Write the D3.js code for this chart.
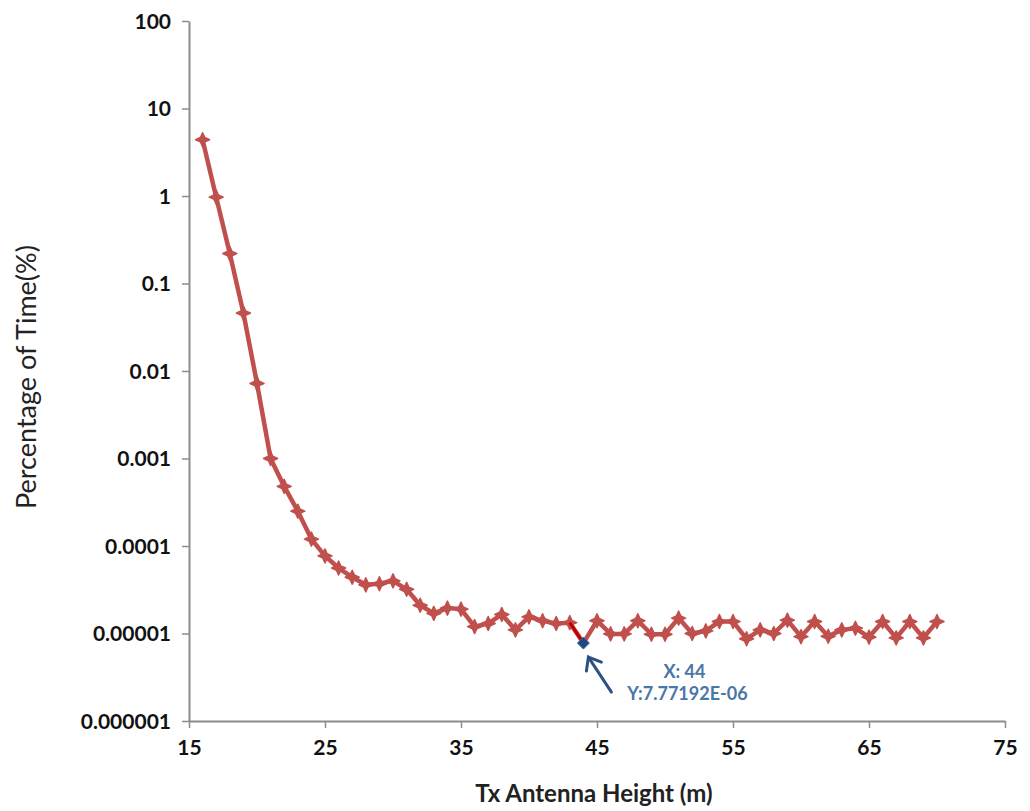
<!DOCTYPE html>
<html>
<head>
<meta charset="utf-8">
<script src="https://cdn.jsdelivr.net/npm/d3@7"></script>
<style>
  body { margin: 0; background: #fff; }
  svg { display: block; }
</style>
</head>
<body>
<script>
// Tx antenna height (m) and percentage of time (%)
const heights = d3.range(16, 71);
const percent = [
  4.4, 0.97, 0.22, 0.046, 0.0072, 0.001, 4.8e-4, 2.5e-4, 1.2e-4, 7.7e-5,
  5.6e-5, 4.4e-5, 3.6e-5, 3.7e-5, 4.0e-5, 3.2e-5, 2.1e-5, 1.7e-5, 1.95e-5, 1.9e-5,
  1.2e-5, 1.3e-5, 1.65e-5, 1.1e-5, 1.55e-5, 1.4e-5, 1.3e-5, 1.33e-5, 7.77192e-6, 1.4e-5,
  9.9e-6, 9.9e-6, 1.4e-5, 9.8e-6, 9.8e-6, 1.5e-5, 1.0e-5, 1.07e-5, 1.37e-5, 1.37e-5,
  8.7e-6, 1.1e-5, 1.0e-5, 1.42e-5, 9.2e-6, 1.37e-5, 9.3e-6, 1.1e-5, 1.15e-5, 9.1e-6,
  1.37e-5, 8.9e-6, 1.37e-5, 8.9e-6, 1.37e-5
];
const xTicks = [15, 25, 35, 45, 55, 65, 75];
const yTicks = [1e-6, 1e-5, 1e-4, 1e-3, 1e-2, 0.1, 1, 10, 100];
const yTickLabels = ["0.000001", "0.00001", "0.0001", "0.001", "0.01", "0.1", "1", "10", "100"];
const markedX = 44;

const width = 1030, height = 811;
const margin = { left: 189, right: 25, top: 21, bottom: 90 };
const font = "Lato, 'Open Sans', sans-serif";

const data = heights.map((h, i) => ({ x: h, y: percent[i] }));

const svg = d3.select("body").append("svg")
  .attr("width", width)
  .attr("height", height);

const x = d3.scaleLinear().domain([15, 75]).range([margin.left, width - margin.right]);
const y = d3.scaleLog().domain([1e-6, 100]).range([height - margin.bottom, margin.top]);

// axes
const xAxis = svg.append("g")
  .attr("transform", `translate(0,${y(1e-6)})`)
  .call(d3.axisBottom(x).tickValues(xTicks).tickSize(7).tickSizeOuter(0).tickPadding(9));
const yAxis = svg.append("g")
  .attr("transform", `translate(${x(15)},0)`)
  .call(d3.axisLeft(y).tickValues(yTicks).tickFormat((d, i) => yTickLabels[i])
    .tickSize(7).tickSizeOuter(0).tickPadding(11));

[xAxis, yAxis].forEach(g => {
  g.select(".domain").attr("stroke", "#8c8c8c").attr("stroke-width", 2);
  g.selectAll(".tick line").attr("stroke", "#8c8c8c").attr("stroke-width", 1.5);
  g.selectAll(".tick text")
    .attr("fill", "#111")
    .style("font-family", font)
    .style("font-weight", "bold")
    .style("font-size", "21px");
});
xAxis.selectAll(".tick text").attr("dy", "0.85em");
yAxis.selectAll(".tick text").attr("dy", "0.35em");

// axis titles
svg.append("text")
  .attr("x", (x(15) + x(75)) / 2 - 3)
  .attr("y", 802)
  .attr("text-anchor", "middle")
  .style("font-family", font)
  .style("font-weight", "bold")
  .style("font-size", "24px")
  .attr("fill", "#222")
  .text("Tx Antenna Height (m)");

svg.append("text")
  .attr("transform", `translate(36,${(y(1e-6) + y(100)) / 2 + 6}) rotate(-90)`)
  .attr("text-anchor", "middle")
  .style("font-family", font)
  .style("font-size", "27px")
  .attr("fill", "#222")
  .text("Percentage of Time(%)");

// series line
const line = d3.line().x(d => x(d.x)).y(d => y(d.y));
svg.append("path")
  .datum(data)
  .attr("fill", "none")
  .attr("stroke", "#c0504d")
  .attr("stroke-width", 4.5)
  .attr("stroke-linejoin", "round")
  .attr("d", line);

// markers (Excel style diamond-star)
const starPath = "M0,-7 L2.2,-2.2 L7,0 L2.2,2.2 L0,7 L-2.2,2.2 L-7,0 L-2.2,-2.2 Z";
svg.append("g")
  .selectAll("path")
  .data(data.filter(d => d.x !== markedX))
  .join("path")
  .attr("transform", d => `translate(${x(d.x)},${y(d.y)})`)
  .attr("d", starPath)
  .attr("fill", "#c0504d")
  .attr("stroke", "#c0504d")
  .attr("stroke-width", 1.5)
  .attr("stroke-linejoin", "round");

// highlighted segment and point
const iMark = heights.indexOf(markedX);
svg.append("path")
  .datum([data[iMark - 1], data[iMark]])
  .attr("fill", "none")
  .attr("stroke", "#c00000")
  .attr("stroke-width", 3)
  .attr("d", line);
svg.append("path")
  .attr("transform", `translate(${x(markedX)},${y(percent[iMark])})`)
  .attr("d", "M0,-6 L6,0 L0,6 L-6,0 Z")
  .attr("fill", "#1f497d")
  .attr("stroke", "#3b6aa0")
  .attr("stroke-width", 1);

// annotation arrow + label
const px = x(markedX), py = y(percent[iMark]);
const ann = svg.append("g").attr("stroke", "#2c5282").attr("stroke-width", 3)
  .attr("fill", "none").attr("stroke-linecap", "round");
ann.append("line")
  .attr("x1", px + 28).attr("y1", py + 49)
  .attr("x2", px + 5).attr("y2", py + 14);
ann.append("path")
  .attr("d", `M${px + 3},${py + 28} L${px + 5},${py + 14} L${px + 18},${py + 19}`);

svg.append("g")
  .attr("fill", "#4a76a8")
  .style("font-family", font)
  .style("font-weight", "bold")
  .style("font-size", "18px")
  .attr("text-anchor", "middle")
  .selectAll("text")
  .data(["X: 44", "Y:7.77192E-06"])
  .join("text")
  .attr("x", (d, i) => i === 0 ? px + 101 : px + 104)
  .attr("y", (d, i) => py + 35 + i * 22)
  .text(d => d);
</script>
</body>
</html>
